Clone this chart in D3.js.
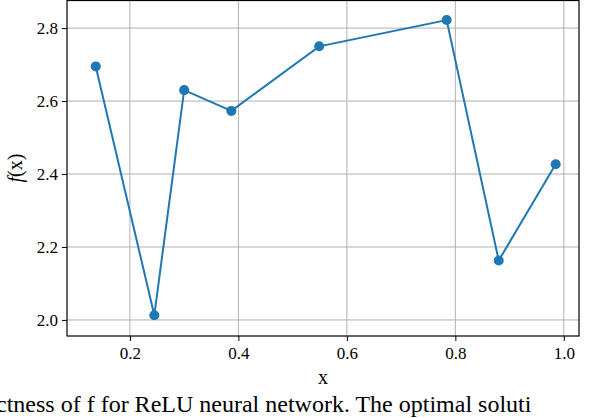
<!DOCTYPE html>
<html><head><meta charset="utf-8">
<script src="https://cdn.jsdelivr.net/npm/d3@7"></script>
<style>body{margin:0;background:#fff}</style>
</head><body>
<svg id="chart" width="590" height="418" font-family="Liberation Serif, serif"></svg>
<script>
var xs = [0.137, 0.245, 0.300, 0.387, 0.549, 0.784, 0.880, 0.985];
var ys = [2.695, 2.013, 2.630, 2.573, 2.750, 2.822, 2.163, 2.427];
var xTicks = [0.2, 0.4, 0.6, 0.8, 1.0];
var yTicks = [2.0, 2.2, 2.4, 2.6, 2.8];
var serif = '"Liberation Serif", "Times New Roman", serif';

var svg = d3.select('#chart');
var L = 67, R = 579, T = 0, B = 336;
var x = d3.scaleLinear().domain([0.084, 1.028]).range([L, R]);
var y = d3.scaleLinear().domain([1.956, 2.877]).range([B, T]);

// grid
svg.selectAll('.gx').data(xTicks).enter().append('line')
  .attr('x1', x).attr('x2', x).attr('y1', T).attr('y2', B)
  .attr('stroke', '#b0b0b0').attr('stroke-width', 1);
svg.selectAll('.gy').data(yTicks).enter().append('line')
  .attr('y1', y).attr('y2', y).attr('x1', L).attr('x2', R)
  .attr('stroke', '#b0b0b0').attr('stroke-width', 1);

var xa = svg.append('g').attr('transform', 'translate(0,' + B + ')')
  .call(d3.axisBottom(x).tickValues(xTicks).tickFormat(d3.format('.1f')).tickSizeOuter(0).tickSize(5).tickPadding(6));
var ya = svg.append('g').attr('transform', 'translate(' + L + ',0)')
  .call(d3.axisLeft(y).tickValues(yTicks).tickFormat(d3.format('.1f')).tickSizeOuter(0).tickSize(5).tickPadding(4));
[xa, ya].forEach(function(a) {
  a.select('.domain').remove();
  a.attr('font-family', serif);
  a.selectAll('text').attr('font-size', 17).attr('fill', '#000').style('font-family', serif);
  a.selectAll('line').attr('stroke', '#000');
});

svg.append('rect').attr('x', L).attr('y', T + 0.5).attr('width', R - L).attr('height', B - T - 0.5)
  .attr('fill', 'none').attr('stroke', '#000').attr('stroke-width', 1.2);

var pts = xs.map(function(d, i) { return [d, ys[i]]; });
svg.append('path').datum(pts)
  .attr('d', d3.line().x(function(d) { return x(d[0]); }).y(function(d) { return y(d[1]); }))
  .attr('fill', 'none').attr('stroke', '#1f77b4').attr('stroke-width', 2);
svg.selectAll('.pt').data(pts).enter().append('circle')
  .attr('cx', function(d) { return x(d[0]); }).attr('cy', function(d) { return y(d[1]); })
  .attr('r', 5).attr('fill', '#1f77b4');

svg.append('text').attr('x', (L + R) / 2).attr('y', 384).attr('text-anchor', 'middle')
  .attr('font-size', 20).style('font-family', serif).text('x');
svg.append('text').attr('transform', 'translate(22,' + ((T + B) / 2) + ') rotate(-90)')
  .attr('text-anchor', 'middle').attr('font-size', 20).style('font-family', serif)
  .html('<tspan font-style="italic">f</tspan>(x)');

svg.append('text').attr('x', -4).attr('y', 412).attr('font-size', 24).style('font-family', serif)
  .text('ctness of f for ReLU neural network. The optimal soluti');
</script>
</body></html>
